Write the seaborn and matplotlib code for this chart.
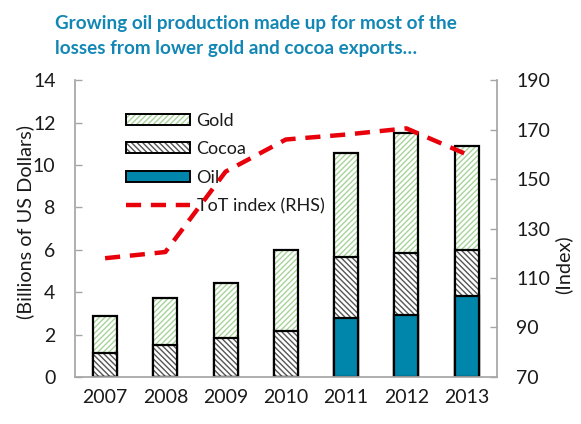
import numpy as np
import pandas as pd
import matplotlib
matplotlib.use("Agg")
import matplotlib.pyplot as plt
from matplotlib.lines import Line2D
from matplotlib.patches import Patch
from matplotlib.legend_handler import HandlerTuple
import seaborn as sns

years = ["2007", "2008", "2009", "2010", "2011", "2012", "2013"]
oil = [0.0, 0.0, 0.0, 0.0, 2.78, 2.94, 3.81]
cocoa = [1.15, 1.49, 1.84, 2.18, 2.87, 2.89, 2.18]
gold = [1.73, 2.25, 2.59, 3.81, 4.92, 5.67, 4.91]
tot_index = [118, 120.5, 153, 166, 168, 170.5, 160]

sns.set_theme(style="white")
plt.rcParams["font.family"] = ["Lato", "DejaVu Sans"]
plt.rcParams["hatch.linewidth"] = 1.0

TEXT = "#1a1a1a"
AXIS = "#a6a6a6"
GOLD_HATCH = "#a8d49a"
COCOA_HATCH = "#555555"
OIL = "#0086aa"
RED = "#e8000b"
GOLD_PAT = "//////"
COCOA_PAT = "\\\\\\\\\\\\"
TICK_FS = 14
LABEL_FS = 14.3

df = pd.DataFrame({"year": years, "oil": oil, "cocoa": cocoa, "gold": gold})
df["cocoa_top"] = df["oil"] + df["cocoa"]
df["total"] = df["cocoa_top"] + df["gold"]

fig = plt.figure(figsize=(5.81, 4.24), dpi=100)
ax = fig.add_axes([0.129, 0.111, 0.726, 0.700])

W = 0.4
# Gold segment (drawn as full stack height, covered by lower segments)
sns.barplot(data=df, x="year", y="total", color="white", edgecolor=GOLD_HATCH,
            hatch=GOLD_PAT, linewidth=0, width=W, ax=ax)
sns.barplot(data=df, x="year", y="total", color="black", fill=False,
            linewidth=1.6, width=W, ax=ax)
# Cocoa segment
sns.barplot(data=df, x="year", y="cocoa_top", color="white", edgecolor=COCOA_HATCH,
            hatch=COCOA_PAT, linewidth=0, width=W, ax=ax)
sns.barplot(data=df, x="year", y="cocoa_top", color="black", fill=False,
            linewidth=1.6, width=W, ax=ax)
# Oil segment
sns.barplot(data=df, x="year", y="oil", color=OIL, saturation=1,
            edgecolor="black", linewidth=1.6, width=W, ax=ax)

ax.set_xlim(-0.5, 6.5)
ax.set_ylim(0, 14)
ax.set_yticks(np.arange(0, 15, 2))
ax.set_xlabel("")
ax.set_ylabel("(Billions of US Dollars)", fontsize=LABEL_FS, color=TEXT)
ax.yaxis.set_label_coords(-0.097, 0.522)

# Terms-of-trade index on the right axis
ax2 = ax.twinx()
sns.lineplot(x=np.arange(len(years)), y=tot_index, ax=ax2, color=RED,
             linewidth=3.2, dashes=False)
ax2.lines[0].set_dashes([3.4, 2.2])
ax2.set_ylim(70, 190)
ax2.set_yticks(np.arange(70, 191, 20))
ax2.set_ylabel("(Index)", fontsize=LABEL_FS, color=TEXT)
ax2.yaxis.set_label_coords(1.137, 0.377)
ax2.set_xlim(-0.5, 6.5)

for a in (ax, ax2):
    for s in a.spines.values():
        s.set_visible(False)
    a.tick_params(axis="y", labelsize=TICK_FS, labelcolor=TEXT, colors=AXIS,
                  direction="in", length=5, width=1, pad=14)
ax.spines["left"].set_visible(True)
ax.spines["left"].set_color(AXIS)
ax.spines["bottom"].set_visible(True)
ax.spines["bottom"].set_color(AXIS)
ax2.spines["right"].set_visible(True)
ax2.spines["right"].set_color(AXIS)
for lab in ax.get_yticklabels() + ax2.get_yticklabels():
    lab.set_color(TEXT)

# Category ticks sit between the years
ax.set_xticks(np.arange(len(years)))
ax.set_xticklabels(years)
ax.set_xticks(np.arange(-0.5, len(years), 1.0), minor=True)
ax.tick_params(axis="x", which="major", length=0, labelsize=TICK_FS, labelcolor=TEXT, pad=9)
ax.tick_params(axis="x", which="minor", length=5, width=1, color=AXIS, direction="out")

def boxed(hcolor, hatch):
    return (Patch(facecolor="white", edgecolor=hcolor, hatch=hatch, linewidth=0),
            Patch(facecolor="none", edgecolor="black", linewidth=1.4))

handles = [
    boxed(GOLD_HATCH, GOLD_PAT),
    boxed(COCOA_HATCH, COCOA_PAT),
    Patch(facecolor=OIL, edgecolor="black", linewidth=1.4),
    Line2D([], [], color=RED, linewidth=3.2, dashes=[3.4, 2.2]),
]
leg = ax.legend(handles, ["Gold", "Cocoa", "Oil", "ToT index (RHS)"],
                loc="upper left", bbox_to_anchor=(0.121, 0.89), frameon=False,
                fontsize=13, handlelength=3.56, handleheight=0.58,
                labelspacing=0.69, handletextpad=0.35, borderpad=0,
                borderaxespad=0,
                handler_map={tuple: HandlerTuple(ndivide=1, pad=0)})
for t in leg.get_texts():
    t.set_color(TEXT)

fig.text(0.095, 0.945, "Growing oil production made up for most of the",
         fontsize=13.6, fontweight="bold", color="#1287b5", ha="left", va="center")
fig.text(0.095, 0.885, "losses from lower gold and cocoa exports\u2026",
         fontsize=13.6, fontweight="bold", color="#1287b5", ha="left", va="center")

fig.savefig("out.png", dpi=100)
